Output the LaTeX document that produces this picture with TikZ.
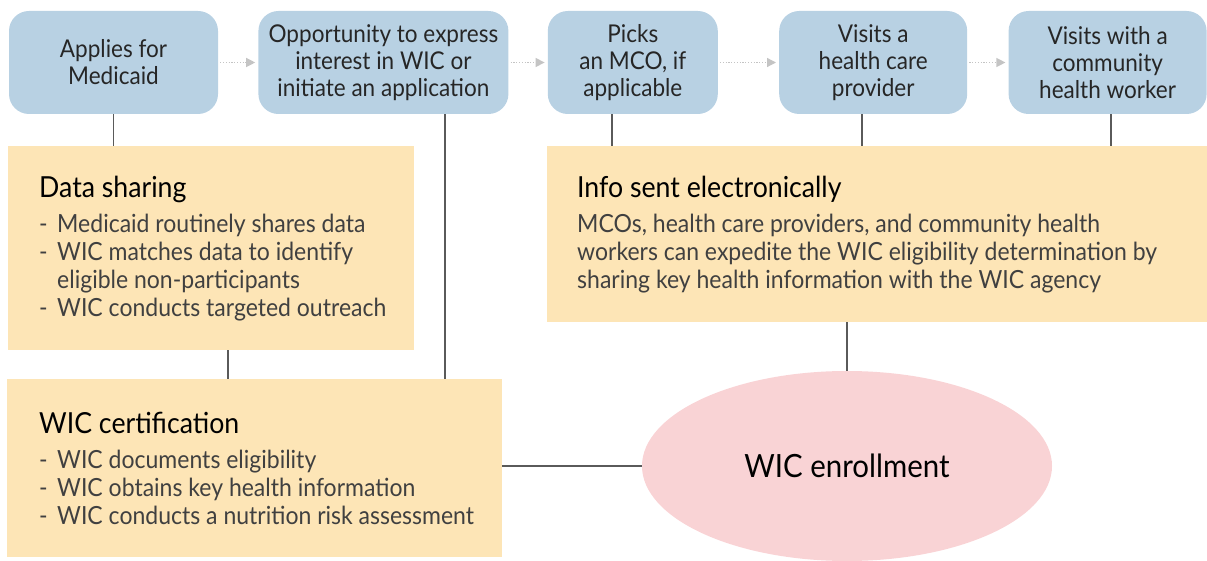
\documentclass[tikz,border=0pt]{standalone}
\usepackage{fontspec}
\setmainfont{Lato}[FakeStretch=0.92]
\usetikzlibrary{positioning,arrows.meta,shapes.geometric}
\definecolor{stepblue}{HTML}{B8D1E3}
\definecolor{noteyellow}{HTML}{FDE5B6}
\definecolor{enrollpink}{HTML}{F9D3D5}
\definecolor{linkgray}{HTML}{5A5A5A}
\definecolor{dotgray}{HTML}{C4C4C4}
\newcommand{\itm}{\makebox[18pt][l]{-}}
\newcommand{\notetitle}[1]{{\fontsize{29}{29}\selectfont\color{black}#1}}
\tikzset{
  stepbox/.style={rounded corners=20pt, fill=stepblue, align=center, text=black!85,
    font=\fontsize{24.5}{27}\selectfont, minimum height=103pt, inner sep=0pt},
  notebox/.style={fill=noteyellow, anchor=north west, inner sep=0pt},
  notetext/.style={align=left, text=black!75, font=\fontsize{25}{28}\selectfont, inner sep=0pt},
  flow/.style={dotgray, line width=1.2pt, dash pattern=on 1.2pt off 1.6pt,
    -{Triangle[length=9pt,width=9pt]}, shorten <=2pt, shorten >=3pt},
  link/.style={linkgray, line width=1.3pt},
}

\begin{document}
\begin{tikzpicture}[x=1pt,y=-1pt]
	\useasboundingbox (0,0) rectangle (1207,561);
	
	% steps along the top
	\node[stepbox, minimum width=209pt] (medicaid) at (113.5,62.5) {Applies for\\Medicaid};
	\node[stepbox, minimum width=250pt, right=40pt of medicaid] (express) {Opportunity to express\\interest in WIC or\\initiate an application};
	\node[stepbox, minimum width=170pt, right=39pt of express] (mco) {Picks\\an MCO, if\\applicable};
	\node[stepbox, minimum width=188pt, right=61pt of mco] (provider) {Visits a\\health care\\provider};
	\node[stepbox, minimum width=198pt, right=41pt of provider] (chw) {Visits with a\\community\\health worker};
	
	% notes
	\node[notebox, minimum width=406pt, minimum height=204pt] (sharing) at (8,146) {};
	\node[notetext, right=31pt of sharing.west] (sharing text) {%
		\notetitle{Data sharing}\\[7pt]
		\itm Medicaid routinely shares data\\
		\itm WIC matches data to identify\\
		\hspace*{18pt}eligible non-participants\\
		\itm WIC conducts targeted outreach};
	\node[notebox, minimum width=660pt, minimum height=176pt] (electronic) at (547,146) {};
	\node[notetext, right=30pt of electronic.west] (electronic text) {%
		\notetitle{Info sent electronically}\\[7pt]
		MCOs, health care providers, and community health\\
		workers can expedite the WIC eligibility determination by\\
		sharing key health information with the WIC agency};
	\node[notebox, minimum width=495pt, minimum height=178pt] (certification) at (7,379) {};
	\node[notetext, right=32pt of certification.west] (certification text) {%
		\notetitle{WIC certification}\\[7pt]
		\itm WIC documents eligibility\\
		\itm WIC obtains key health information\\
		\itm WIC conducts a nutrition risk assessment};
	\node[ellipse, fill=enrollpink, minimum width=410pt, minimum height=190pt,
		font=\fontsize{32}{32}\selectfont, text=black] (enrollment) at (847,466) {WIC enrollment};
	
	% dotted flow
	\draw[flow] (medicaid) -- (express);
	\draw[flow] (express) -- (mco);
	\draw[flow] (mco) -- (provider);
	\draw[flow] (provider) -- (chw);
	
	% links
	\draw[link] (medicaid.south) -- (medicaid.south |- sharing.north);
	\draw[link] (express.south -| 445,0) -- (445,0 |- certification.north);
	\draw[link] (mco.south -| 612,0) -- (612,0 |- electronic.north);
	\draw[link] (provider.south -| 862,0) -- (862,0 |- electronic.north);
	\draw[link] (chw.south -| 1111,0) -- (1111,0 |- electronic.north);
	\draw[link] (sharing.south -| 228,0) -- (228,0 |- certification.north);
	\draw[link] (electronic.south -| enrollment.north) -- (enrollment.north);
	\draw[link] (certification.east |- enrollment.west) -- (enrollment.west);
\end{tikzpicture}
\end{document}
